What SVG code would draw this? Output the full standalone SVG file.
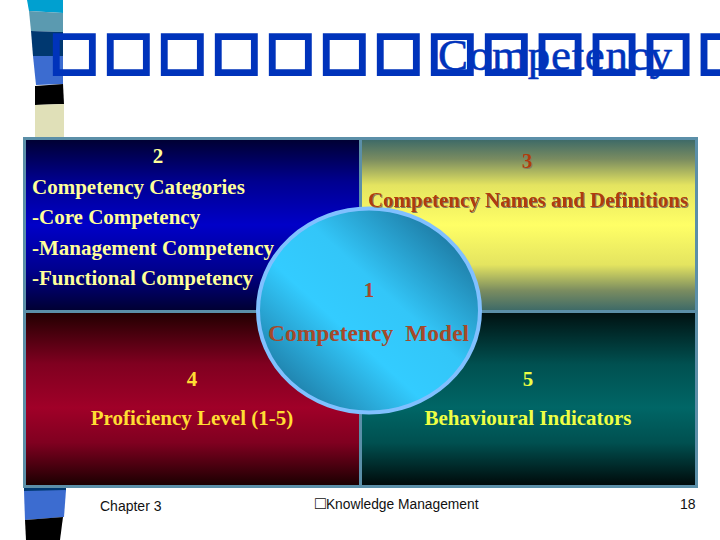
<svg xmlns="http://www.w3.org/2000/svg" width="720" height="540" viewBox="0 0 720 540">
<style>
.t{font-family:"Liberation Serif",serif;font-weight:bold;font-size:21px}
.y{fill:#ffff99}.g{fill:#eeff44}.o{fill:#ffdd33}.r{fill:#b03a08}.m{fill:#a5492a}.c{text-anchor:middle}
.f{font-family:"Liberation Sans",sans-serif;font-size:14px;fill:#111}
.b{fill:#0033bb;stroke:#0033bb}
</style>
<defs>
<linearGradient id="gb" x1="0" y1="0" x2="0" y2="1"><stop offset="0" stop-color="#000030"/><stop offset=".25" stop-color="#000090"/><stop offset=".5" stop-color="#0000c8"/><stop offset=".75" stop-color="#000090"/><stop offset="1" stop-color="#000030"/></linearGradient>
<linearGradient id="gy" x1="0" y1="0" x2="0" y2="1"><stop offset="0" stop-color="#3a6868"/><stop offset=".12" stop-color="#7a8c60"/><stop offset=".27" stop-color="#e4e460"/><stop offset=".5" stop-color="#ffff66"/><stop offset=".73" stop-color="#e4e460"/><stop offset=".88" stop-color="#7a8c60"/><stop offset="1" stop-color="#3a6868"/></linearGradient>
<linearGradient id="gr" x1="0" y1="0" x2="0" y2="1"><stop offset="0" stop-color="#200000"/><stop offset=".3" stop-color="#800020"/><stop offset=".55" stop-color="#a00028"/><stop offset=".75" stop-color="#800020"/><stop offset="1" stop-color="#180000"/></linearGradient>
<linearGradient id="gt" x1="0" y1="0" x2="0" y2="1"><stop offset="0" stop-color="#001010"/><stop offset=".3" stop-color="#005050"/><stop offset=".55" stop-color="#006666"/><stop offset=".75" stop-color="#005050"/><stop offset="1" stop-color="#000808"/></linearGradient>
<linearGradient id="gc" x1="1" y1="0" x2="0" y2="1"><stop offset=".15" stop-color="#1f80aa"/><stop offset=".42" stop-color="#33c6f8"/><stop offset=".6" stop-color="#33ccff"/><stop offset=".87" stop-color="#1f80aa"/></linearGradient>
<filter id="sh" x="-5%" y="-20%" width="110%" height="140%"><feDropShadow dx="1" dy="1" stdDeviation=".4" flood-color="#808060"/></filter>
</defs>
<rect width="720" height="540" fill="#fff"/>
<g id="strip">
<polygon points="27,0 63,0 63,13 29,11" fill="#00a0d0"/>
<polygon points="29,11 63,13 63,32 31,31" fill="#5b9ab0"/>
<polygon points="31,31 63,32 63,56 33,56" fill="#003870"/>
<polygon points="33,56 63,56 63,84 36,85" fill="#3c6cd0"/>
<polygon points="35,86 63,84 64,104 35,105" fill="#000"/>
<polygon points="35,105 64,104 64,137 35,137" fill="#e0e0b8"/>
<polygon points="24,488 66,488 66,491 24,491" fill="#003870"/>
<polygon points="24,491 66,490 64,517 25,520" fill="#3c6cd0"/>
<polygon points="25,520 63,517 60,540 26,540" fill="#000"/>
</g>
<g id="panels" stroke="#5b8fa8" stroke-width="3">
<rect id="panel-2" x="24.500" y="138.500" width="336" height="173" fill="url(#gb)"/>
<rect id="panel-3" x="360.500" y="138.500" width="336" height="173" fill="url(#gy)"/>
<rect id="panel-4" x="24.500" y="311.500" width="336" height="175" fill="url(#gr)"/>
<rect id="panel-5" x="360.500" y="311.500" width="336" height="175" fill="url(#gt)"/>
</g>
<g id="circle"><ellipse cx="369" cy="310.500" rx="111" ry="102" fill="url(#gc)" stroke="#80c0ff" stroke-width="4"/></g>
<g id="title">
<text x="50" y="68" font-family="DejaVu Sans, sans-serif" font-size="51" letter-spacing="5.800" class="b" stroke-width="4">□□□□□□□□□□□□□</text>
<text x="438" y="70" font-family="Liberation Serif, serif" font-size="45" class="b" stroke-width=".5" textLength="234">Competency</text>
</g>
<g id="label-2">
<text x="158" y="163" class="t y c">2</text>
<text x="32" y="194" class="t y">Competency Categories</text>
<text x="32" y="224" class="t y">-Core Competency</text>
<text x="32" y="255" class="t y">-Management Competency</text>
<text x="32" y="285" class="t y">-Functional Competency</text>
</g>
<g id="label-3" filter="url(#sh)">
<text x="527" y="168" class="t r c">3</text>
<text x="528" y="207" class="t r c">Competency Names and Definitions</text>
</g>
<g id="label-1">
<text x="369" y="297" class="t m c">1</text>
<text x="268" y="341" class="t m" style="font-size:23.500px" word-spacing="6">Competency Model</text>
</g>
<g id="label-4">
<text x="192" y="386" class="t o c">4</text>
<text x="192" y="425" class="t o c">Proficiency Level (1-5)</text>
</g>
<g id="label-5">
<text x="528" y="386" class="t g c">5</text>
<text x="528" y="425" class="t g c">Behavioural Indicators</text>
</g>
<g id="footer">
<text x="100" y="511" class="f">Chapter 3</text>
<text x="315" y="509" class="f" style="font-size:13.800px"><tspan style="font-size:18px">□</tspan>Knowledge Management</text>
<text x="680" y="509" class="f">18</text>
</g>
</svg>
